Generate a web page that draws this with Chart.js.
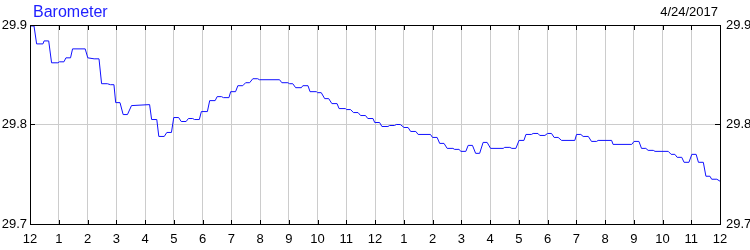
<!DOCTYPE html>
<html>
<head>
<meta charset="utf-8">
<title>Barometer</title>
<script src="https://cdn.jsdelivr.net/npm/chart.js@4.4.1/dist/chart.umd.min.js"></script>
<style>
    body { margin: 0; background: #fff; }
    #wrap { position: relative; width: 750px; height: 250px; }
</style>
</head>
<body>
<div id="wrap"><canvas id="baro-chart" width="750" height="250"></canvas></div>
<script>
// Chart data: hours since midnight and barometer readings (inHg)
const chartTitle = 'Barometer';
const chartDate = '4/24/2017';
const hourLabels = ['12', '1', '2', '3', '4', '5', '6', '7', '8', '9', '10', '11',
                    '12', '1', '2', '3', '4', '5', '6', '7', '8', '9', '10', '11', '12'];
const yTicks = [29.7, 29.8, 29.9];

const hours = [
    0, 0.14, 0.23, 0.45, 0.49, 0.65, 0.75, 0.97, 1.02, 1.18, 1.25, 1.41, 1.48, 1.92,
    2.01, 2.23, 2.40, 2.49, 2.69, 2.80, 2.92, 2.98, 3.13, 3.24, 3.39, 3.53, 4.16,
    4.23, 4.41, 4.48, 4.67, 4.76, 4.92, 5.00, 5.17, 5.26, 5.43, 5.51, 5.66, 5.72,
    5.89, 5.96, 6.17, 6.25, 6.44, 6.51, 6.66, 6.73, 6.92, 6.98, 7.15, 7.23, 7.40,
    7.50, 7.64, 7.75, 7.92, 7.98, 8.68, 8.76, 8.97, 9.03, 9.14, 9.24, 9.44, 9.49,
    9.67, 9.74, 9.96, 10.00, 10.13, 10.25, 10.39, 10.50, 10.68, 10.75, 10.97, 11.01,
    11.15, 11.25, 11.41, 11.50, 11.67, 11.75, 11.93, 11.99, 12.16, 12.24, 12.45,
    12.51, 12.68, 12.74, 12.88, 13.01, 13.15, 13.24, 13.42, 13.50, 13.93, 14.00,
    14.16, 14.25, 14.40, 14.51, 14.71, 14.77, 14.92, 14.99, 15.16, 15.24, 15.39,
    15.50, 15.64, 15.76, 15.90, 16.02, 16.46, 16.51, 16.69, 16.76, 16.90, 17.01,
    17.18, 17.25, 17.44, 17.50, 17.67, 17.73, 17.91, 18.00, 18.14, 18.23, 18.37,
    18.49, 18.95, 19.01, 19.16, 19.24, 19.42, 19.53, 19.71, 19.76, 20.23, 20.28,
    20.93, 21.01, 21.18, 21.27, 21.42, 21.50, 21.68, 21.74, 22.20, 22.30, 22.43,
    22.51, 22.67, 22.75, 22.92, 23.02, 23.17, 23.25, 23.42, 23.51, 23.65, 23.71,
    23.89, 24.00
];

const pressure = [
    29.899, 29.899, 29.881, 29.881, 29.884, 29.884, 29.862, 29.862, 29.863, 29.863,
    29.867, 29.867, 29.876, 29.876, 29.867, 29.866, 29.866, 29.841, 29.841, 29.840,
    29.840, 29.822, 29.822, 29.810, 29.810, 29.819, 29.820, 29.805, 29.805, 29.788,
    29.788, 29.792, 29.792, 29.807, 29.807, 29.803, 29.803, 29.806, 29.806, 29.805,
    29.805, 29.813, 29.813, 29.824, 29.824, 29.828, 29.828, 29.827, 29.827, 29.833,
    29.833, 29.839, 29.839, 29.842, 29.842, 29.846, 29.846, 29.845, 29.845, 29.842,
    29.842, 29.841, 29.841, 29.837, 29.837, 29.839, 29.839, 29.833, 29.833, 29.832,
    29.832, 29.826, 29.826, 29.821, 29.821, 29.816, 29.816, 29.815, 29.815, 29.812,
    29.812, 29.809, 29.809, 29.806, 29.806, 29.802, 29.802, 29.798, 29.798, 29.799,
    29.799, 29.800, 29.800, 29.797, 29.797, 29.793, 29.793, 29.790, 29.790, 29.787,
    29.787, 29.781, 29.781, 29.776, 29.776, 29.775, 29.775, 29.773, 29.773, 29.779,
    29.779, 29.771, 29.771, 29.782, 29.782, 29.776, 29.776, 29.777, 29.777, 29.776,
    29.776, 29.784, 29.784, 29.790, 29.790, 29.791, 29.791, 29.789, 29.789, 29.791,
    29.791, 29.787, 29.787, 29.784, 29.784, 29.790, 29.790, 29.788, 29.788, 29.783,
    29.783, 29.784, 29.784, 29.780, 29.780, 29.783, 29.783, 29.776, 29.776, 29.774,
    29.774, 29.773, 29.773, 29.770, 29.770, 29.767, 29.767, 29.762, 29.762, 29.770,
    29.770, 29.762, 29.762, 29.748, 29.748, 29.745, 29.745, 29.743
];

const fontFamily = "'Liberation Sans', Arial, sans-serif";

// Draws the black frame, the short inner tick marks and the two header texts
const framePlugin = {
    id: 'frame',
    afterDraw(chart) {
        const ctx = chart.ctx;
        const area = chart.chartArea;
        const xScale = chart.scales.x;
        const yScale = chart.scales.y;
        ctx.save();
        ctx.strokeStyle = '#000';
        ctx.lineWidth = 1;
        ctx.strokeRect(area.left + 0.5, area.top + 0.5, area.right - area.left, area.bottom - area.top);

        ctx.beginPath();
        for (let h = 1; h < hourLabels.length - 1; h++) {
            const px = Math.round(xScale.getPixelForValue(h)) + 0.5;
            ctx.moveTo(px, area.top);
            ctx.lineTo(px, area.top + 5);
            ctx.moveTo(px, area.bottom);
            ctx.lineTo(px, area.bottom - 4);
        }
        yTicks.slice(1, -1).forEach(v => {
            const py = Math.round(yScale.getPixelForValue(v)) + 0.5;
            ctx.moveTo(area.left, py);
            ctx.lineTo(area.left + 5, py);
            ctx.moveTo(area.right, py);
            ctx.lineTo(area.right - 5, py);
        });
        ctx.stroke();

        ctx.textBaseline = 'alphabetic';
        ctx.font = '16px ' + fontFamily;
        ctx.fillStyle = '#2020ff';
        ctx.textAlign = 'left';
        ctx.fillText(chartTitle, area.left + 3, 17);

        ctx.font = '13px ' + fontFamily;
        ctx.fillStyle = '#000';
        ctx.textAlign = 'right';
        ctx.fillText(chartDate, area.right - 2, 16);
        ctx.restore();
    }
};

const ctx = document.getElementById('baro-chart').getContext('2d');
const baroChart = new Chart(ctx, {
    type: 'line',
    data: {
        datasets: [{
            label: chartTitle,
            data: hours.map((h, i) => ({ x: h, y: pressure[i] })),
            borderColor: '#1010ff',
            borderWidth: 1,
            pointRadius: 0,
            tension: 0,
            fill: false
        }]
    },
    options: {
        responsive: false,
        animation: false,
        devicePixelRatio: 1,
        layout: { padding: { top: 25, left: 0, right: 0, bottom: 0 } },
        plugins: {
            legend: { display: false },
            tooltip: { enabled: false }
        },
        scales: {
            x: {
                type: 'linear',
                min: 0,
                max: 24,
                afterFit: scale => { scale.height = 26; },
                afterBuildTicks: scale => {
                    scale.ticks = hourLabels.map((_, i) => ({ value: i }));
                },
                ticks: {
                    autoSkip: false,
                    maxRotation: 0,
                    padding: 8,
                    color: '#000',
                    font: { family: fontFamily, size: 13 },
                    callback: value => hourLabels[value]
                },
                grid: { color: '#cccccc', drawTicks: false },
                border: { display: false }
            },
            y: {
                position: 'left',
                min: 29.7,
                max: 29.9,
                afterFit: scale => { scale.width = 30; },
                afterBuildTicks: scale => {
                    scale.ticks = yTicks.map(v => ({ value: v }));
                },
                ticks: {
                    padding: 3,
                    color: '#000',
                    font: { family: fontFamily, size: 13 },
                    callback: value => value.toFixed(1)
                },
                grid: { color: '#cccccc', drawTicks: false },
                border: { display: false }
            },
            y2: {
                position: 'right',
                min: 29.7,
                max: 29.9,
                afterFit: scale => { scale.width = 30; },
                afterBuildTicks: scale => {
                    scale.ticks = yTicks.map(v => ({ value: v }));
                },
                ticks: {
                    padding: 6,
                    color: '#000',
                    font: { family: fontFamily, size: 13 },
                    callback: value => value.toFixed(1)
                },
                grid: { display: false, drawTicks: false },
                border: { display: false }
            }
        }
    },
    plugins: [framePlugin]
});
</script>
</body>
</html>
